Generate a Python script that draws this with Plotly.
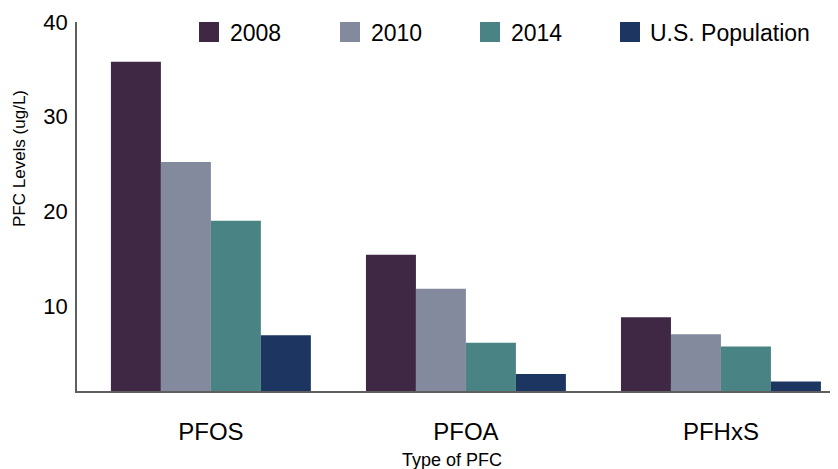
import plotly.graph_objects as go

categories = ["PFOS", "PFOA", "PFHxS"]
series_names = ["2008", "2010", "2014", "U.S. Population"]
values_2008 = [35.8, 15.4, 8.8]
values_2010 = [25.2, 11.8, 7.0]
values_2014 = [19.0, 6.1, 5.7]
values_us = [6.9, 2.8, 2.0]
y_tick_vals = [10, 20, 30, 40]
colors = ["#3e2843", "#838a9e", "#4a8384", "#1d3561"]

series_values = [values_2008, values_2010, values_2014, values_us]
FONT = "Liberation Sans, Arial, sans-serif"

OFF = 8  # page body margin
W, H = 838 - OFF, 469 - OFF
# target plot area in window pixels: x 77..838, y 22..391
L, R, T, B = 77 - OFF, 0, 22 - OFF, 469 - 391
pw, ph = W - L - R, H - T - B

def px_to_paper(x, y):
    # x, y in window pixels
    return (x - OFF - L) / pw, (H - B - (y - OFF)) / ph

fig = go.Figure()
for name, vals, col in zip(series_names, series_values, colors):
    fig.add_trace(go.Bar(x=categories, y=vals, name=name, marker=dict(color=col, line=dict(width=0)),
                         showlegend=False))

# custom legend (large square swatches)
sw_x = [199, 340, 480, 620]
txt_x = [228, 369, 509, 648]
for name, col, sx, tx in zip(series_names, colors, sw_x, txt_x):
    x0, y0 = px_to_paper(sx, 42)
    x1, y1 = px_to_paper(sx + 20, 22)
    fig.add_shape(type="rect", xref="paper", yref="paper", x0=x0, x1=x1, y0=y0, y1=y1,
                  fillcolor=col, line=dict(width=0))
    ax, ay = px_to_paper(tx, 33)
    fig.add_annotation(x=ax, y=ay, xref="paper", yref="paper", text=name, showarrow=False,
                       xanchor="left", yanchor="middle", font=dict(size=23, color="#000", family=FONT))

# axis titles
ax, ay = px_to_paper(452, 460)
fig.add_annotation(x=ax, y=ay, xref="paper", yref="paper", text="Type of PFC", showarrow=False,
                   xanchor="center", yanchor="middle", font=dict(size=18, color="#000", family=FONT))
ax, ay = px_to_paper(19, 158)
fig.add_annotation(x=ax, y=ay, xref="paper", yref="paper", text="PFC Levels (ug/L)", showarrow=False,
                   textangle=-90, xanchor="center", yanchor="middle",
                   font=dict(size=17, color="#000", family=FONT))

fig.update_layout(
    width=W, height=H,
    margin=dict(l=L, r=R, t=T, b=B),
    paper_bgcolor="white", plot_bgcolor="white",
    barmode="group", bargap=0.216, bargroupgap=0,
    font=dict(family=FONT, color="#000"),
    xaxis=dict(range=[-0.525, 2.459], showline=True, linecolor="#5f5f5f", linewidth=2,
               showgrid=False, zeroline=False, ticks="outside", ticklen=18,
               tickcolor="rgba(0,0,0,0)", tickfont=dict(size=24, color="#000")),
    yaxis=dict(range=[1, 40], tickvals=y_tick_vals, showline=True, linecolor="#5f5f5f",
               linewidth=1.5, showgrid=False, zeroline=False, ticks="outside", ticklen=3,
               tickcolor="rgba(0,0,0,0)", tickfont=dict(size=22, color="#000")),
)

fig.write_html("out.html")
